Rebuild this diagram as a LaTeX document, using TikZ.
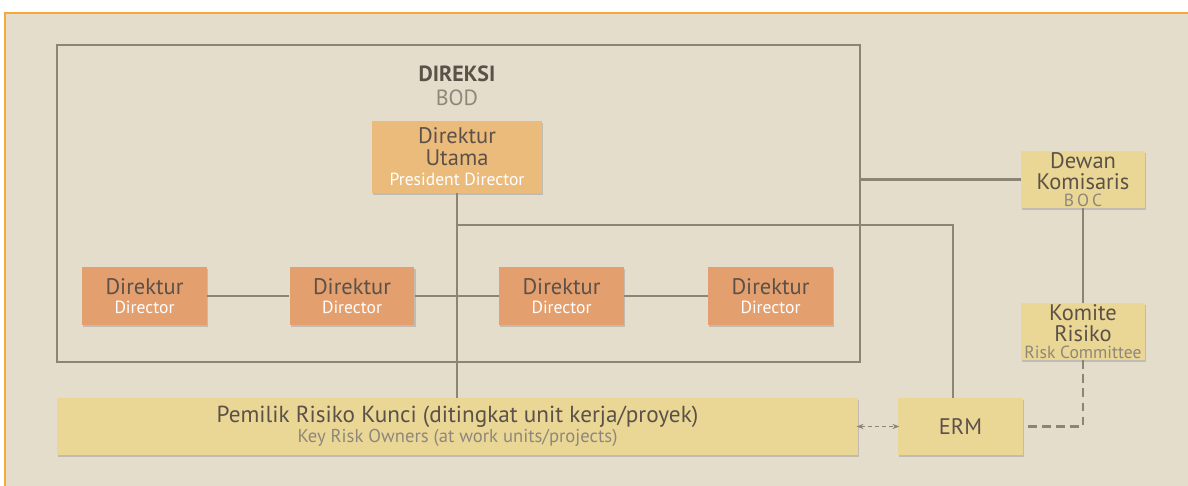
\documentclass[tikz,border=0pt]{standalone}
\usepackage{fontspec}
\setmainfont{PT Sans}
\usetikzlibrary{shadows,arrows.meta}

\definecolor{bgbeige}{HTML}{E4DDCC}
\definecolor{frameorange}{HTML}{F5A93A}
\definecolor{linegray}{HTML}{8C8474}
\definecolor{txtdark}{HTML}{5B5149}
\definecolor{txtgray}{HTML}{8E877B}
\definecolor{presfill}{HTML}{EBBB7C}
\definecolor{dirfill}{HTML}{E39F6E}
\definecolor{yelfill}{HTML}{EBD795}

\newcommand{\enlbl}[2]{{\color{#1}\fontsize{10}{10}\selectfont #2}}

\begin{document}
\begin{tikzpicture}[x=0.02cm,y=-0.02cm,
  link/.style={draw=linegray,line width=1.6pt},
  card/.style={align=center,inner sep=0pt,text=txtdark,
    font=\fontsize{12.8}{12.2}\selectfont,
    drop shadow={shadow xshift=0.6pt,shadow yshift=-1.2pt,opacity=0.35}},
  presbox/.style={card,fill=presfill,minimum width=3.4cm,minimum height=1.44cm},
  dirbox/.style={card,fill=dirfill,minimum width=2.5cm,minimum height=1.16cm},
  yelbox/.style={card,fill=yelfill,minimum width=2.48cm,minimum height=1.14cm}]

\useasboundingbox (0,0) rectangle (1188,486);

% background and orange frame
\fill[white] (0,0) rectangle (1188,486);
\fill[bgbeige] (5,13) rectangle (1188,486);
\draw[frameorange,line width=1.6pt] (5,486) -- (5,13) -- (1188,13);

% board of directors frame
\node[draw=linegray,line width=1.6pt,minimum width=16.06cm,minimum height=6.34cm,inner sep=0pt] (bod) at (458.5,203.5) {};
\node[text=txtdark,font=\fontsize{12.5}{12.5}\selectfont\bfseries] (direksi) at (457,74) {DIREKSI};
\node[text=txtgray,font=\fontsize{12.5}{12.5}\selectfont] (bodlbl) at (457,98) {BOD};

% boxes
\node[presbox] (pres) at (457,157) {Direktur\\Utama\\[-0.5pt]\enlbl{white}{President Director}};

\foreach \name/\cx in {dira/144.5,dirb/352,dirc/561.5,dird/770.5}{
  \node[dirbox] (\name) at (\cx,296) {Direktur\\[-1.5pt]\enlbl{white}{Director}};
}

\node[yelbox] (dewan) at (1083,179.5) {Dewan\\Komisaris\\[-2.5pt]\enlbl{txtgray}{B\,O\,C}};
\node[yelbox] (komite) at (1083,331.5) {Komite\\Risiko\\[-2.5pt]\enlbl{txtgray}{Risk Committee}};
\node[yelbox,minimum width=2.5cm] (erm) at (960.5,426.5) {ERM};
\node[yelbox,minimum width=16.02cm,font=\fontsize{13.2}{12}\selectfont] (pemilik) at (457.5,426.5)
  {Pemilik Risiko Kunci (ditingkat unit kerja/proyek)\\[-0.5pt]{\color{txtgray}\fontsize{10.6}{10.6}\selectfont Key Risk Owners (at work units/projects)}};

% connectors
\draw[link] (dira) -- (dirb);
\draw[link] (dirb) -- (dirc);
\draw[link] (dirc) -- (dird);
\coordinate (junc) at (457,225);
\draw[link] (pres.south) -- (pres.south |- pemilik.north);
\draw[link] (junc) -| ([xshift=-0.15cm]erm.north);
\draw[link] (dewan.west -| bod.east) -- (dewan.west);
\draw[link] (dewan.south) -- (komite.north);
\draw[link,dashed,dash pattern=on 5pt off 3pt] (komite.south) |- (erm.east);
\draw[draw=linegray,line width=0.8pt,dashed,dash pattern=on 2.5pt off 1.5pt,{Stealth[length=4pt]}-{Stealth[length=4pt]}] ([xshift=-1pt]pemilik.east) -- ([xshift=1pt]erm.west);

\end{tikzpicture}
\end{document}
